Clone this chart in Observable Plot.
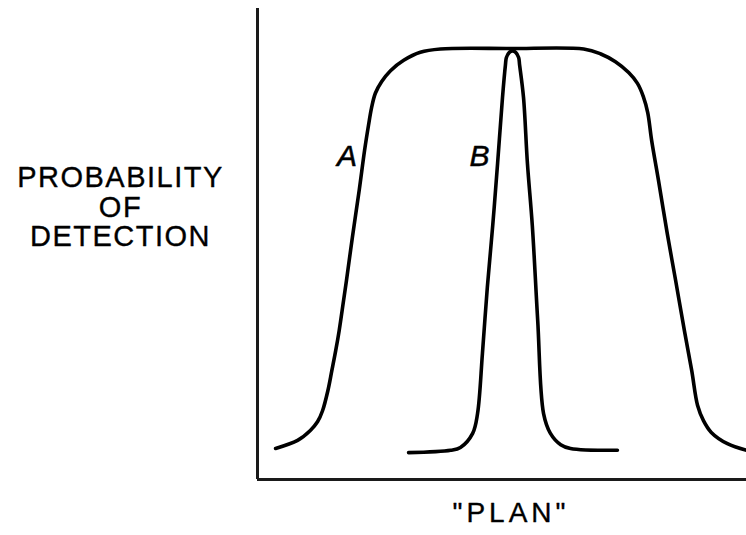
<!DOCTYPE html>
<html>
<head>
<meta charset="utf-8">
<script src="https://cdn.jsdelivr.net/npm/d3@7"></script>
<script src="https://cdn.jsdelivr.net/npm/@observablehq/plot@0.6"></script>
<style>
  html, body { margin: 0; padding: 0; background: #fff; }
  #chart { width: 746px; height: 535px; }
</style>
</head>
<body>
<div id="chart"></div>
<script>
// Curve A: broad detection profile (x = "plan" position, y = probability of detection)
const curveAx = [3.7, 8.2, 10.8, 12.3, 13.3, 14.4, 15.2, 16.0, 16.7, 17.6, 18.2, 19.4, 20.8, 21.9, 22.7, 23.3, 24.1, 25.4, 27.2, 29.9, 33.3, 37.4, 51.7, 66.7, 70.1, 73.2, 75.9, 77.7, 78.9, 79.8, 80.6, 82.0, 83.8, 85.5, 87.3, 88.8, 90.0, 91.2, 92.8, 96.1, 100];
const curveAy = [0.066, 0.083, 0.104, 0.123, 0.146, 0.189, 0.231, 0.274, 0.316, 0.380, 0.423, 0.514, 0.614, 0.699, 0.752, 0.788, 0.820, 0.845, 0.868, 0.890, 0.907, 0.914, 0.915, 0.914, 0.904, 0.887, 0.864, 0.841, 0.813, 0.779, 0.720, 0.635, 0.522, 0.423, 0.316, 0.231, 0.157, 0.125, 0.100, 0.076, 0.062];

// Curve B: narrow detection profile
const curveBx = [30.9, 39.5, 41.5, 44.0, 45.0, 46.0, 47.0, 48.1, 49.1, 50.1, 50.7, 50.9, 51.5, 52.15, 52.8, 53.4, 53.6, 54.4, 55.2, 56.2, 57.3, 58.5, 59.9, 62.0, 64.0, 73.6];
const curveBy = [0.057, 0.062, 0.068, 0.098, 0.140, 0.268, 0.408, 0.539, 0.671, 0.811, 0.880, 0.896, 0.907, 0.910, 0.907, 0.896, 0.880, 0.811, 0.671, 0.539, 0.338, 0.140, 0.098, 0.074, 0.066, 0.062];

// Curve labels
const labelNames = ["A", "B"];
const labelX = [18.3, 45.4];
const labelY = [0.686, 0.686];

const yTitle = "PROBABILITY\nOF\nDETECTION";
const xTitle = "\"PLAN\"";

const seriesA = curveAx.map((x, i) => ({x, y: curveAy[i]}));
const seriesB = curveBx.map((x, i) => ({x, y: curveBy[i]}));
const labels = labelNames.map((t, i) => ({t, x: labelX[i], y: labelY[i]}));

const chart = Plot.plot({
  width: 746,
  height: 535,
  marginLeft: 257,
  marginRight: 0,
  marginTop: 8,
  marginBottom: 56,
  x: {domain: [0, 100], axis: null},
  y: {domain: [0, 1], axis: null},
  style: {fontFamily: "'Liberation Sans', Arial, Helvetica, sans-serif", color: "#000", background: "#fff"},
  marks: [
    Plot.ruleX([0], {stroke: "#1a1a1a", strokeWidth: 3}),
    Plot.ruleY([0], {stroke: "#1a1a1a", strokeWidth: 3}),
    Plot.line(seriesA, {x: "x", y: "y", curve: "catmull-rom", stroke: "#000", strokeWidth: 3.6}),
    Plot.line(seriesB, {x: "x", y: "y", curve: "catmull-rom", stroke: "#000", strokeWidth: 3.6}),
    Plot.text(labels, {x: "x", y: "y", text: "t", fontSize: 30, fontStyle: "italic", fill: "#000", stroke: "#000", strokeWidth: 0.5, textAnchor: "middle", lineAnchor: "middle"}),
    Plot.text([yTitle], {frameAnchor: "left", dx: -137, dy: -37, fontSize: 29, lineHeight: 1.03, textAnchor: "middle", lineAnchor: "middle", fill: "#000", stroke: "#000", strokeWidth: 0.35}),
    Plot.text([xTitle], {frameAnchor: "bottom", dx: 9, dy: 34, fontSize: 28, textAnchor: "middle", lineAnchor: "middle", fill: "#000", stroke: "#000", strokeWidth: 0.35})
  ]
});

document.getElementById("chart").appendChild(chart);
d3.select(chart).selectAll("text").each(function() {
  const s = this.textContent;
  if (s.includes("PLAN")) this.setAttribute("letter-spacing", "4px");
  else if (s.includes("PROBABILITY")) this.setAttribute("letter-spacing", "1.5px");
  else if (s.includes("DETECTION") || s === "OF") this.setAttribute("letter-spacing", "0.5px");
});
</script>
</body>
</html>
